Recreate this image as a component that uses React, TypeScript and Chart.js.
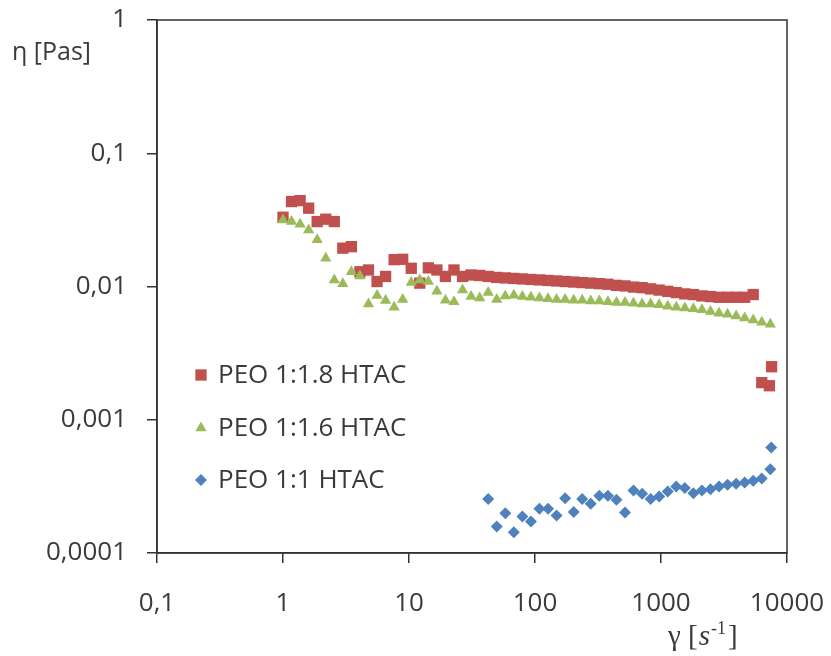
import React, { useEffect, useRef } from 'react';
import { Chart, registerables } from 'chart.js';
import { drawPoint } from 'chart.js/helpers';

Chart.register(...registerables);

// Shear rate grid (s^-1)
const shearRate = [
  1, 1.169, 1.367, 1.598, 1.868, 2.184, 2.553, 2.985, 3.49, 4.08,
  4.77, 5.58, 6.52, 7.62, 8.91, 10.42, 12.18, 14.24, 16.65, 19.46,
  22.75, 26.6, 31.1, 36.4, 42.5, 49.7, 58.1, 67.9, 79.4, 92.8,
  108.5, 126.9, 148.3, 173.4, 202.7, 237, 277, 324, 379, 443,
  518, 605, 708, 827, 967, 1131, 1322, 1546, 1807, 2113,
  2470, 2888, 3376, 3947, 4614, 5394, 6306, 7372,
];

// PEO 1:1.8 HTAC (first 56 grid points)
const etaRed = [
  0.0331, 0.0434, 0.0441, 0.0387, 0.0307, 0.032, 0.0307, 0.0194, 0.0199, 0.0129,
  0.0133, 0.0109, 0.0119, 0.0159, 0.016, 0.0137, 0.0106, 0.0138, 0.0133, 0.0119,
  0.0133, 0.0119, 0.0122, 0.0121, 0.0119, 0.0117, 0.0116, 0.0115, 0.0114, 0.0113,
  0.0112, 0.0111, 0.011, 0.0109, 0.0108, 0.0107, 0.0106, 0.0105, 0.0104, 0.0102,
  0.0101, 0.0099, 0.0098, 0.0096, 0.0094, 0.0092, 0.009, 0.0088, 0.0087, 0.0085,
  0.0084, 0.0083, 0.0083, 0.0083, 0.0083, 0.0087,
];
const redTailX = [6306, 7250, 7550];
const redTailY = [0.0019, 0.0018, 0.0025];

// PEO 1:1.6 HTAC (all 58 grid points)
const etaGreen = [
  0.0316, 0.0307, 0.0293, 0.0266, 0.0224, 0.0163, 0.0112, 0.0105, 0.0129, 0.012,
  0.0074, 0.00855, 0.00784, 0.007, 0.008, 0.0107, 0.0112, 0.0109, 0.0092, 0.0079,
  0.0077, 0.0094, 0.0084, 0.0082, 0.009, 0.008, 0.0085, 0.0086, 0.0084, 0.0083,
  0.0082, 0.0081, 0.008, 0.008, 0.0079, 0.0079, 0.0078, 0.0078, 0.0077, 0.0076,
  0.0076, 0.0075, 0.0074, 0.0074, 0.0073, 0.0071, 0.007, 0.0069, 0.0068, 0.0067,
  0.0065, 0.0063, 0.0062, 0.006, 0.0058, 0.0056, 0.0054, 0.0052,
];

// PEO 1:1 HTAC (grid points 24..57)
const blueStartIndex = 24;
const etaBlue = [
  0.000254, 0.000158, 0.000199, 0.000143, 0.000188, 0.000172, 0.000215, 0.000215, 0.000191, 0.000258,
  0.000203, 0.000254, 0.000234, 0.000269, 0.000269, 0.000251, 0.000201, 0.000294, 0.000278, 0.000254,
  0.000266, 0.000289, 0.000315, 0.000307, 0.000281, 0.000294, 0.000301, 0.000315, 0.000325, 0.000331,
  0.000338, 0.000348, 0.000362, 0.000426,
];
const blueTailX = [7500];
const blueTailY = [0.00062];

const xTicks = [0.1, 1, 10, 100, 1000, 10000];
const yTicks = [0.0001, 0.001, 0.01, 0.1, 1];

const seriesNames = ['PEO 1:1.8 HTAC', 'PEO 1:1.6 HTAC', 'PEO 1:1 HTAC'];
const seriesColors = ['#C0504D', '#9BBB59', '#4F81BD'];
const seriesStyles = ['rect', 'triangle', 'rectRot'];
const seriesRadius = [8, 6.5, 6];

const fmt = (v: number) => String(v).replace('.', ',');
const TEXT = '#3a3a3a';
const AXIS = '#333333';

const overlayPlugin = {
  id: 'overlay',
  afterDraw(chart: any) {
    const { ctx, chartArea: a } = chart;
    ctx.save();
    // frame
    ctx.strokeStyle = AXIS;
    ctx.lineWidth = 1.5;
    ctx.strokeRect(a.left, a.top, a.right - a.left, a.bottom - a.top);

    // legend inside plot
    const rowsY = [a.top + 355, a.top + 408, a.top + 460];
    ctx.font = '26px "Open Sans"';
    ctx.textBaseline = 'middle';
    ctx.textAlign = 'left';
    seriesNames.forEach((name, i) => {
      ctx.fillStyle = seriesColors[i];
      ctx.strokeStyle = seriesColors[i];
      drawPoint(ctx, { pointStyle: seriesStyles[i], radius: seriesRadius[i], rotation: 0, borderWidth: 0 } as any, a.left + 44, rowsY[i]);
      ctx.fillStyle = TEXT;
      ctx.fillText(name, a.left + 61, rowsY[i] + 1);
    });

    // y title
    ctx.fillStyle = TEXT;
    ctx.font = '25px "Open Sans"';
    ctx.textBaseline = 'alphabetic';
    ctx.fillText('η [Pas]', 12, 60);

    // x title
    const baseY = 645;
    let x = 668;
    ctx.font = '29px "Liberation Serif"';
    ctx.fillText('γ [', x, baseY);
    x += ctx.measureText('γ [').width + 1;
    ctx.font = 'italic 29px "Liberation Serif"';
    ctx.fillText('s', x, baseY);
    x += ctx.measureText('s').width;
    ctx.font = '18px "Liberation Serif"';
    ctx.fillText('-1', x + 1, baseY - 11);
    x += ctx.measureText('-1').width + 3;
    ctx.font = '29px "Liberation Serif"';
    ctx.fillText(']', x, baseY);
    ctx.restore();
  },
};

const zeroPad = (s: any) => {
  s.paddingTop = 0;
  s.paddingBottom = 0;
  s.paddingLeft = 0;
  s.paddingRight = 0;
};

export default function App() {
  const ref = useRef<HTMLCanvasElement | null>(null);
  useEffect(() => {
    if (!ref.current) return;
    const mk = (xs: number[], ys: number[]) => ys.map((y, i) => ({ x: xs[i], y }));
    const redData = mk(shearRate, etaRed).concat(mk(redTailX, redTailY));
    const greenData = mk(shearRate, etaGreen);
    const blueData = mk(shearRate.slice(blueStartIndex), etaBlue).concat(mk(blueTailX, blueTailY));
    const datas = [redData, greenData, blueData];

    const chart = new Chart(ref.current, {
      type: 'scatter',
      data: {
        datasets: datas.map((d, i) => ({
          label: seriesNames[i],
          data: d,
          order: 3 - i,
          pointStyle: seriesStyles[i] as any,
          pointRadius: seriesRadius[i],
          pointHoverRadius: seriesRadius[i],
          backgroundColor: seriesColors[i],
          borderColor: seriesColors[i],
          pointBorderWidth: 0,
          borderWidth: 0,
          showLine: false,
        })),
      },
      plugins: [overlayPlugin],
      options: {
        responsive: false,
        animation: false,
        events: [],
        layout: { padding: { top: 20, right: 44, left: 0, bottom: 0 } },
        plugins: { legend: { display: false }, tooltip: { enabled: false }, title: { display: false } },
        scales: {
          x: {
            type: 'logarithmic',
            position: 'bottom',
            min: 0.1,
            max: 10000,
            afterBuildTicks: (s: any) => { s.ticks = xTicks.map((v) => ({ value: v })); },
            afterFit: (s: any) => { s.height = 103; zeroPad(s); },
            ticks: {
              callback: (v: any) => fmt(Number(v)),
              font: { family: 'Open Sans', size: 26 },
              color: TEXT,
              padding: 25,
              maxRotation: 0,
              autoSkip: false,
            },
            grid: { display: true, drawOnChartArea: false, drawTicks: true, tickLength: 10, color: AXIS, lineWidth: 1.5 },
            border: { display: true, color: AXIS, width: 1.5 },
          },
          y: {
            type: 'logarithmic',
            position: 'left',
            min: 0.0001,
            max: 1,
            afterBuildTicks: (s: any) => { s.ticks = yTicks.map((v) => ({ value: v })); },
            afterFit: (s: any) => { s.width = 157; zeroPad(s); },
            ticks: {
              callback: (v: any) => fmt(Number(v)),
              font: { family: 'Open Sans', size: 26 },
              color: TEXT,
              padding: 20,
              autoSkip: false,
            },
            grid: { display: true, drawOnChartArea: false, drawTicks: true, tickLength: 10, color: AXIS, lineWidth: 1.5 },
            border: { display: true, color: AXIS, width: 1.5 },
          },
        },
      } as any,
    });
    return () => chart.destroy();
  }, []);

  return (
    <div style={{ position: 'absolute', left: 0, top: 0, width: 831, height: 656, background: '#fff' }}>
      <canvas ref={ref} width={831} height={656} style={{ display: 'block' }} />
    </div>
  );
}
